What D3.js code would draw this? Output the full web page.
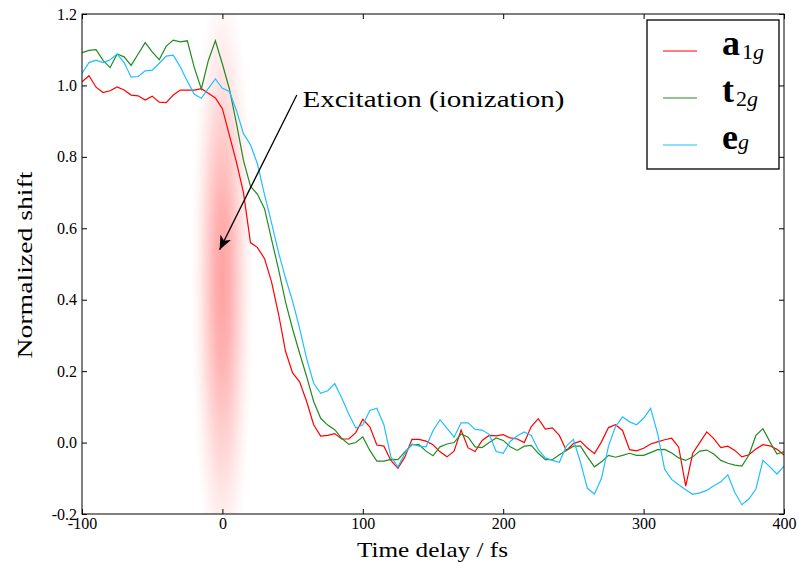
<!DOCTYPE html>
<html>
<head>
<meta charset="utf-8">
<script src="https://cdn.jsdelivr.net/npm/d3@7/dist/d3.min.js"></script>
<style>
  body { margin: 0; background: #fff; }
  svg { display: block; }
  text { font-family: "Liberation Serif", "DejaVu Serif", serif; }
</style>
</head>
<body>
<div id="chart"></div>
<script>
'use strict';

// time delay grid (fs)
var timeDelay = [
  -100, -95, -90, -85, -80, -75, -70, -65, -60, -55,
  -50, -45, -40, -35, -30, -25, -20, -15, -10, -5,
  0, 5, 10, 15, 20, 25, 30, 35, 40, 45,
  50, 55, 60, 65, 70, 75, 80, 85, 90, 95,
  100, 105, 110, 115, 120, 125, 130, 135, 140, 145,
  150, 155, 160, 165, 170, 175, 180, 185, 190, 195,
  200, 205, 210, 215, 220, 225, 230, 235, 240, 245,
  250, 255, 260, 265, 270, 275, 280, 285, 290, 295,
  300, 305, 310, 315, 320, 325, 330, 335, 340, 345,
  350, 355, 360, 365, 370, 375, 380, 385, 390, 395,
  400
];

var a1g = [
  1.010, 1.027, 0.995, 0.980, 0.985, 0.996, 0.987, 0.973, 0.971, 0.959,
  0.970, 0.953, 0.952, 0.973, 0.987, 0.987, 0.987, 0.991, 0.978, 0.965,
  0.935, 0.860, 0.785, 0.700, 0.560, 0.546, 0.515, 0.450, 0.360, 0.255,
  0.195, 0.170, 0.115, 0.050, 0.018, 0.020, 0.025, 0.010, 0.010, 0.028,
  0.065, 0.044, -0.007, -0.010, -0.050, -0.072, -0.040, 0.009, 0.009, 0.004,
  -0.006, -0.026, -0.040, -0.024, 0.035, -0.015, -0.025, 0.006, 0.020, 0.019,
  0.022, 0.013, 0.010, 0.000, 0.045, 0.067, 0.038, 0.041, 0.020, -0.022,
  -0.003, 0.004, -0.015, -0.031, 0.002, 0.042, 0.050, 0.034, -0.020, -0.023,
  -0.016, -0.004, 0.002, 0.008, 0.012, -0.013, -0.122, -0.030, 0.000, 0.030,
  0.011, -0.014, -0.010, -0.022, -0.040, -0.034, -0.018, -0.006, -0.009, -0.019,
  -0.035
];

var t2g = [
  1.092, 1.098, 1.100, 1.070, 1.050, 1.088, 1.080, 1.056, 1.088, 1.120,
  1.094, 1.072, 1.110, 1.127, 1.122, 1.125, 1.050, 0.990, 1.070, 1.125,
  1.060, 0.990, 0.894, 0.790, 0.718, 0.695, 0.655, 0.569, 0.485, 0.393,
  0.318, 0.250, 0.185, 0.115, 0.068, 0.049, 0.036, 0.012, -0.005, 0.000,
  0.016, -0.022, -0.052, -0.052, -0.047, -0.048, -0.026, -0.006, -0.006, -0.024,
  -0.037, -0.012, -0.004, 0.000, 0.024, 0.015, -0.012, -0.014, 0.000, 0.013,
  0.006, -0.012, -0.022, -0.010, -0.008, -0.030, -0.048, -0.048, -0.034, -0.022,
  -0.010, -0.010, -0.040, -0.068, -0.054, -0.036, -0.041, -0.036, -0.030, -0.036,
  -0.036, -0.028, -0.020, -0.019, -0.029, -0.043, -0.050, -0.040, -0.024, -0.021,
  -0.032, -0.050, -0.058, -0.063, -0.066, -0.035, 0.020, 0.039, 0.002, -0.032,
  -0.025
];

var eg = [
  1.034, 1.064, 1.071, 1.064, 1.072, 1.088, 1.064, 1.023, 1.025, 1.041,
  1.043, 1.062, 1.082, 1.085, 1.052, 1.012, 0.975, 0.964, 0.992, 1.018,
  0.992, 0.983, 0.930, 0.865, 0.834, 0.780, 0.694, 0.615, 0.532, 0.460,
  0.396, 0.320, 0.235, 0.166, 0.138, 0.145, 0.165, 0.125, 0.080, 0.041,
  0.050, 0.090, 0.096, 0.050, -0.040, -0.068, -0.030, -0.004, -0.010, -0.012,
  0.033, 0.064, 0.040, 0.015, 0.055, 0.055, 0.037, 0.035, 0.023, -0.025,
  -0.030, 0.003, 0.019, 0.030, 0.020, -0.020, -0.043, -0.050, -0.055, -0.010,
  0.009, -0.055, -0.128, -0.144, -0.100, -0.010, 0.045, 0.072, 0.058, 0.050,
  0.068, 0.096, 0.025, -0.075, -0.103, -0.118, -0.132, -0.145, -0.141, -0.134,
  -0.121, -0.110, -0.090, -0.140, -0.174, -0.158, -0.130, -0.050, -0.068, -0.088,
  -0.066
];

var seriesNames = ['a', 't', 'e'];
var seriesSubNum = ['1', '2', ''];
var seriesColors = ['#ff0000', '#228b22', '#1ec0ff'];
var xTicks = [-100, 0, 100, 200, 300, 400];
var yTicks = [-0.2, 0.0, 0.2, 0.4, 0.6, 0.8, 1.0, 1.2];

// excitation pulse centre and annotation (data coords)
var pulseCenter = [0, 0.45];
var arrowTip = [-2, 0.54];
var arrowTail = [53, 0.973];
var noteAt = [57, 0.96];

var width = 799, height = 563;
var margin = { top: 14, right: 15, bottom: 49, left: 82 };

var svg = d3.select('#chart').append('svg')
  .attr('width', width)
  .attr('height', height);

var x = d3.scaleLinear().domain([-100, 400]).range([margin.left, width - margin.right]);
var y = d3.scaleLinear().domain([-0.2, 1.2]).range([height - margin.bottom, margin.top]);

var defs = svg.append('defs');
defs.append('clipPath').attr('id', 'plotclip')
  .append('rect')
  .attr('x', x(-100)).attr('y', y(1.2))
  .attr('width', x(400) - x(-100)).attr('height', y(-0.2) - y(1.2));

var grad = defs.append('radialGradient').attr('id', 'pulse');
[[0, 0.42], [0.25, 0.35], [0.5, 0.21], [0.7, 0.1], [0.85, 0.04], [1, 0]].forEach(function(s) {
  grad.append('stop')
    .attr('offset', s[0])
    .attr('stop-color', '#ff2020')
    .attr('stop-opacity', s[1]);
});

defs.append('marker')
  .attr('id', 'head')
  .attr('viewBox', '-14 -7 16 14')
  .attr('refX', 0).attr('refY', 0)
  .attr('markerWidth', 16).attr('markerHeight', 14)
  .attr('markerUnits', 'userSpaceOnUse')
  .attr('orient', 'auto')
  .append('path')
  .attr('d', 'M0,0 L-14,-6 L-10,0 L-14,6 Z')
  .attr('fill', '#000');

var plot = svg.append('g').attr('clip-path', 'url(#plotclip)');

//Pulse glow.
plot.append('ellipse')
  .attr('cx', x(pulseCenter[0]))
  .attr('cy', y(pulseCenter[1]))
  .attr('rx', 31)
  .attr('ry', 310)
  .attr('fill', 'url(#pulse)');

var line = d3.line()
  .x(function(d) { return x(d[0]); })
  .y(function(d) { return y(d[1]); });

[a1g, t2g, eg].forEach(function(vals, i) {
  plot.append('path')
    .datum(timeDelay.map(function(t, j) { return [t, vals[j]]; }))
    .attr('d', line)
    .attr('fill', 'none')
    .attr('stroke', seriesColors[i])
    .attr('stroke-width', 1.2);
});

//Axes, ticks pointing inward on every side.
function styleAxis(g) {
  g.selectAll('.domain').remove();
  g.selectAll('.tick line').attr('stroke', '#000');
  g.selectAll('text')
    .attr('fill', '#000')
    .style('font-family', '"Liberation Serif", "DejaVu Serif", serif')
    .style('font-size', '16px');
}

svg.append('g')
  .attr('transform', 'translate(0,' + y(-0.2) + ')')
  .call(d3.axisBottom(x).tickValues(xTicks).tickSizeInner(-5).tickSizeOuter(0).tickPadding(4)
    .tickFormat(d3.format('d')))
  .call(styleAxis);
svg.append('g')
  .attr('transform', 'translate(0,' + y(1.2) + ')')
  .call(d3.axisTop(x).tickValues(xTicks).tickSizeInner(-5).tickSizeOuter(0).tickFormat(''))
  .call(styleAxis);
svg.append('g')
  .attr('transform', 'translate(' + x(-100) + ',0)')
  .call(d3.axisLeft(y).tickValues(yTicks).tickSizeInner(-5).tickSizeOuter(0).tickPadding(5)
    .tickFormat(d3.format('.1f')))
  .call(styleAxis);
svg.append('g')
  .attr('transform', 'translate(' + x(400) + ',0)')
  .call(d3.axisRight(y).tickValues(yTicks).tickSizeInner(-5).tickSizeOuter(0).tickFormat(''))
  .call(styleAxis);

svg.selectAll('.tick text').text(function() { return this.textContent.replace('\u2212', '-'); });

svg.append('rect')
  .attr('x', x(-100)).attr('y', y(1.2))
  .attr('width', x(400) - x(-100)).attr('height', y(-0.2) - y(1.2))
  .attr('fill', 'none')
  .attr('stroke', '#000')
  .attr('stroke-width', 1);

//Axis titles.
svg.append('text')
  .attr('x', (x(-100) + x(400)) / 2 - 0.5)
  .attr('y', 557)
  .attr('text-anchor', 'middle')
  .attr('textLength', 151)
  .attr('lengthAdjust', 'spacingAndGlyphs')
  .style('font-size', '22px')
  .text('Time delay / fs');

svg.append('text')
  .attr('transform', 'translate(32,' + (y(0.5) + 1) + ') rotate(-90)')
  .attr('text-anchor', 'middle')
  .attr('textLength', 187)
  .attr('lengthAdjust', 'spacingAndGlyphs')
  .style('font-size', '22px')
  .text('Normalized shift');

//Annotation.
svg.append('line')
  .attr('x1', x(arrowTail[0])).attr('y1', y(arrowTail[1]))
  .attr('x2', x(arrowTip[0])).attr('y2', y(arrowTip[1]))
  .attr('stroke', '#000')
  .attr('stroke-width', 1.3)
  .attr('marker-end', 'url(#head)');

svg.append('text')
  .attr('x', x(noteAt[0]))
  .attr('y', y(noteAt[1]) + 7)
  .attr('textLength', 262)
  .attr('lengthAdjust', 'spacingAndGlyphs')
  .style('font-size', '24px')
  .text('Excitation (ionization)');

//Legend.
var legend = svg.append('g').attr('transform', 'translate(647,20)');
legend.append('rect')
  .attr('width', 132).attr('height', 149)
  .attr('fill', '#fff')
  .attr('stroke', '#000')
  .attr('stroke-width', 1.3);

seriesNames.forEach(function(name, i) {
  var ly = 31 + i * 47;
  legend.append('line')
    .attr('x1', 16).attr('x2', 50)
    .attr('y1', ly).attr('y2', ly)
    .attr('stroke', seriesColors[i])
    .attr('stroke-width', 1.2);
  var t = legend.append('text')
    .attr('x', 75)
    .attr('y', ly + 4);
  t.append('tspan')
    .style('font-size', '36px')
    .style('font-weight', 'bold')
    .text(name);
  var sub = t.append('tspan')
    .attr('dx', 2)
    .attr('dy', 4)
    .style('font-size', '22px')
    .text(seriesSubNum[i]);
  t.append('tspan')
    .style('font-size', '22px')
    .style('font-style', 'italic')
    .text('g');
});
</script>
</body>
</html>
